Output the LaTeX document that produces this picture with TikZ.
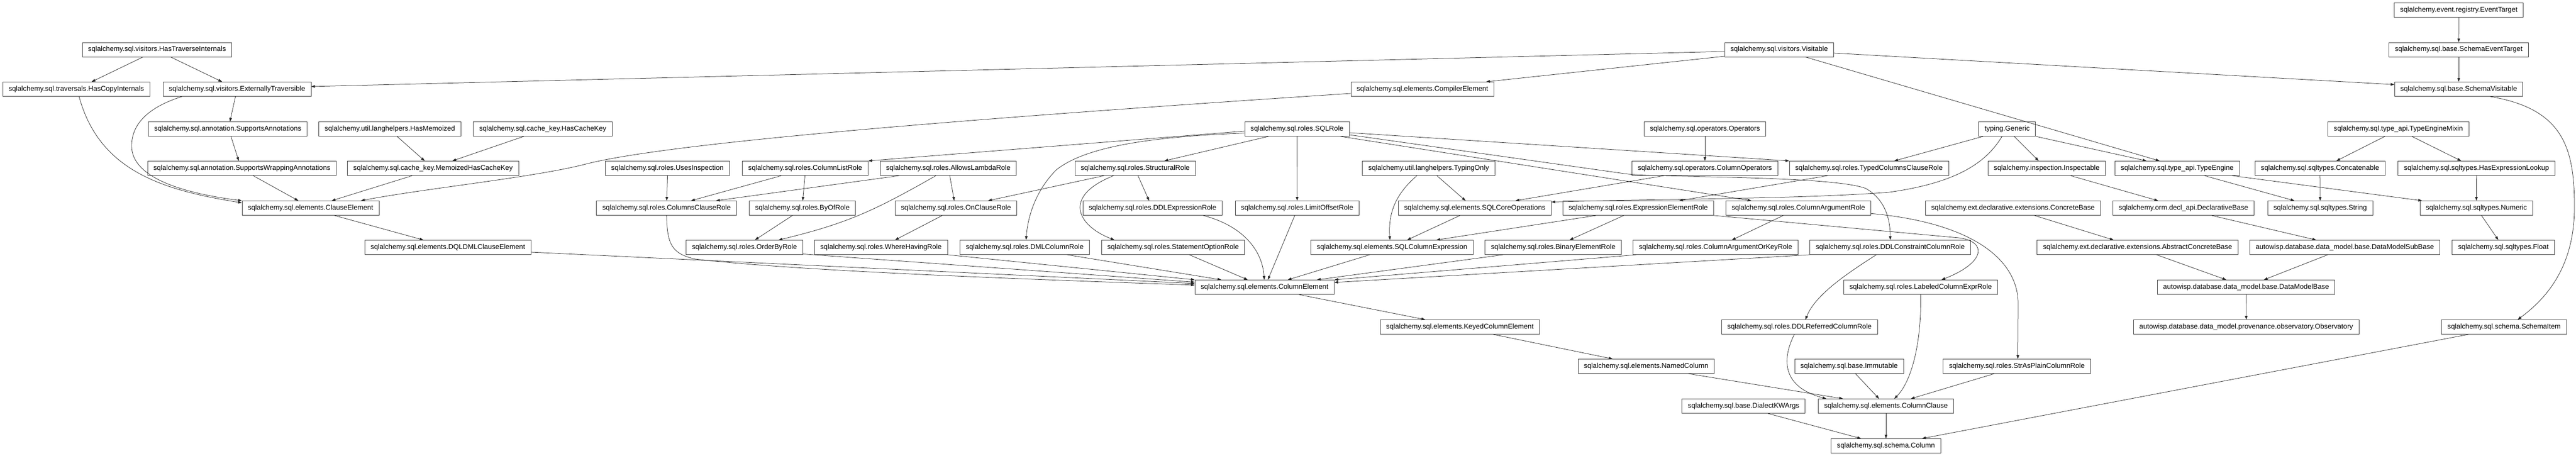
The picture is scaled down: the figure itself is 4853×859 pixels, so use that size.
\documentclass[tikz,border=0pt]{standalone}
\usepackage{fontspec}
\setmainfont{Liberation Sans}
\usetikzlibrary{arrows.meta,calc}
\begin{document}
\begin{tikzpicture}[x=1pt,y=-1pt,
  cls/.style={draw=black!75,line width=0.9pt,fill=white,rectangle,minimum height=27pt,inner xsep=11pt,inner ysep=0pt,font=\fontsize{13.2}{16}\selectfont},
  edg/.style={draw=black!85,line width=0.75pt,-{Triangle[length=7pt,width=5pt]}}]
\fill[white] (0,0) rectangle (4853,859);
\useasboundingbox (0,0) rectangle (4853,859);
% Row A
\node[cls] (evt) at (4632.2,19) {sqlalchemy.event.registry.EventTarget};
% Row B
\node[cls] (hti) at (295.8,93.5) {sqlalchemy.sql.visitors.HasTraverseInternals};
\node[cls] (vis) at (3351.9,93.5) {sqlalchemy.sql.visitors.Visitable};
\node[cls] (set) at (4632,93.5) {sqlalchemy.sql.base.SchemaEventTarget};
% Row C
\node[cls] (hci) at (143.8,168) {sqlalchemy.sql.traversals.HasCopyInternals};
\node[cls] (ext) at (446.6,168) {sqlalchemy.sql.visitors.ExternallyTraversible};
\node[cls] (cmp) at (2679.8,168) {sqlalchemy.sql.elements.CompilerElement};
\node[cls] (svis) at (4632,168) {sqlalchemy.sql.base.SchemaVisitable};
% Row D
\node[cls] (sa) at (429.1,243) {sqlalchemy.sql.annotation.SupportsAnnotations};
\node[cls] (hm) at (734.5,243) {sqlalchemy.util.langhelpers.HasMemoized};
\node[cls] (hck) at (1022.5,243) {sqlalchemy.sql.cache\_key.HasCacheKey};
\node[cls] (sqlr) at (2443.5,243) {sqlalchemy.sql.roles.SQLRole};
\node[cls] (ops) at (3211.9,243) {sqlalchemy.sql.operators.Operators};
\node[cls] (gen) at (3781.3,243) {typing.Generic};
\node[cls] (tem) at (4518.3,243) {sqlalchemy.sql.type\_api.TypeEngineMixin};
% Row E
\node[cls] (swa) at (455.8,317) {sqlalchemy.sql.annotation.SupportsWrappingAnnotations};
\node[cls] (mhck) at (815.8,317) {sqlalchemy.sql.cache\_key.MemoizedHasCacheKey};
\node[cls] (ui) at (1257.3,317) {sqlalchemy.sql.roles.UsesInspection};
\node[cls] (clr) at (1517,317) {sqlalchemy.sql.roles.ColumnListRole};
\node[cls] (alr) at (1786.5,317) {sqlalchemy.sql.roles.AllowsLambdaRole};
\node[cls] (strl) at (2138.7,317) {sqlalchemy.sql.roles.StructuralRole};
\node[cls] (tonly) at (2691.5,317) {sqlalchemy.util.langhelpers.TypingOnly};
\node[cls] (cop) at (3211.9,317) {sqlalchemy.sql.operators.ColumnOperators};
\node[cls] (tccr) at (3521,317) {sqlalchemy.sql.roles.TypedColumnsClauseRole};
\node[cls] (insp) at (3855.8,317) {sqlalchemy.inspection.Inspectable};
\node[cls] (te) at (4101.7,317) {sqlalchemy.sql.type\_api.TypeEngine};
\node[cls] (cat) at (4370.8,317) {sqlalchemy.sql.sqltypes.Concatenable};
\node[cls] (hel) at (4665.6,317) {sqlalchemy.sql.sqltypes.HasExpressionLookup};
% Row F
\node[cls] (ce) at (585,392) {sqlalchemy.sql.elements.ClauseElement};
\node[cls] (ccr) at (1255.8,392) {sqlalchemy.sql.roles.ColumnsClauseRole};
\node[cls] (byof) at (1511.7,392) {sqlalchemy.sql.roles.ByOfRole};
\node[cls] (ocr) at (1801,392) {sqlalchemy.sql.roles.OnClauseRole};
\node[cls] (ddle) at (2171.3,392) {sqlalchemy.sql.roles.DDLExpressionRole};
\node[cls] (lor) at (2443.7,392) {sqlalchemy.sql.roles.LimitOffsetRole};
\node[cls] (sco) at (2778.4,392) {sqlalchemy.sql.elements.SQLCoreOperations};
\node[cls] (eer) at (3086.3,392) {sqlalchemy.sql.roles.ExpressionElementRole};
\node[cls] (car) at (3388,392) {sqlalchemy.sql.roles.ColumnArgumentRole};
\node[cls] (cb) at (3792.3,392) {sqlalchemy.ext.declarative.extensions.ConcreteBase};
\node[cls] (db) at (4113.4,392) {sqlalchemy.orm.decl\_api.DeclarativeBase};
\node[cls] (strg) at (4371,392) {sqlalchemy.sql.sqltypes.String};
\node[cls] (num) at (4665.3,392) {sqlalchemy.sql.sqltypes.Numeric};
% Row G
\node[cls] (dql) at (843.7,466) {sqlalchemy.sql.elements.DQLDMLClauseElement};
\node[cls] (obr) at (1402.5,466) {sqlalchemy.sql.roles.OrderByRole};
\node[cls] (whr) at (1659.7,466) {sqlalchemy.sql.roles.WhereHavingRole};
\node[cls] (dmlc) at (1930.5,466) {sqlalchemy.sql.roles.DMLColumnRole};
\node[cls] (sor) at (2210,466) {sqlalchemy.sql.roles.StatementOptionRole};
\node[cls] (sce) at (2622.5,466) {sqlalchemy.sql.elements.SQLColumnExpression};
\node[cls] (ber) at (2926.1,466) {sqlalchemy.sql.roles.BinaryElementRole};
\node[cls] (caok) at (3232,466) {sqlalchemy.sql.roles.ColumnArgumentOrKeyRole};
\node[cls] (ddlc) at (3561.1,466) {sqlalchemy.sql.roles.DDLConstraintColumnRole};
\node[cls] (acb) at (4027,466) {sqlalchemy.ext.declarative.extensions.AbstractConcreteBase};
\node[cls] (dmsb) at (4417.5,466) {autowisp.database.data\_model.base.DataModelSubBase};
\node[cls] (flt) at (4716.1,466) {sqlalchemy.sql.sqltypes.Float};
% Row H
\node[cls] (cel) at (2382.3,541) {sqlalchemy.sql.elements.ColumnElement};
\node[cls] (lcer) at (3618.4,541) {sqlalchemy.sql.roles.LabeledColumnExprRole};
\node[cls] (dmb) at (4231.5,541) {autowisp.database.data\_model.base.DataModelBase};
% Row I
\node[cls] (kce) at (2750.3,616) {sqlalchemy.sql.elements.KeyedColumnElement};
\node[cls] (ddlr) at (3390.1,616) {sqlalchemy.sql.roles.DDLReferredColumnRole};
\node[cls] (obs) at (4231.7,616) {autowisp.database.data\_model.provenance.observatory.Observatory};
\node[cls] (si) at (4717.5,616) {sqlalchemy.sql.schema.SchemaItem};
% Row J
\node[cls] (nc) at (3101.2,690) {sqlalchemy.sql.elements.NamedColumn};
\node[cls] (imm) at (3483.5,690) {sqlalchemy.sql.base.Immutable};
\node[cls] (sapc) at (3799.6,690) {sqlalchemy.sql.roles.StrAsPlainColumnRole};
% Row K
\node[cls] (dkw) at (3284.8,765) {sqlalchemy.sql.base.DialectKWArgs};
\node[cls] (cc) at (3553,765) {sqlalchemy.sql.elements.ColumnClause};
% Row L
\node[cls] (col) at (3553,840) {sqlalchemy.sql.schema.Column};

% ---- edges ----
\draw[edg] ($(hti.south)+(-26.5,0)$) -- ($(hci.north)+(28.8,0)$);
\draw[edg] ($(hti.south)+(25.8,0)$) -- ($(ext.north)+(-28.2,0)$);
\draw[edg] ($(vis.west)+(0,3.5)$) -- ($(ext.east)+(0,-5)$);
\draw[edg] ($(vis.west)+(0,12.5)$) -- ($(cmp.north)+(120,0)$);
\draw[edg] ($(vis.east)+(0,6.5)$) -- ($(svis.west)+(0,-8.7)$);
\draw[edg] ($(vis.south)+(49.4,0)$) -- ($(te.north)+(-33.4,0)$);
\draw[edg] (evt.south) -- (set.north);
\draw[edg] (set.south) -- (svis.north);
\draw[edg] ($(svis.south)+(59.3,0)$) .. controls (4830,205) and (4850,280) .. (4850,390) .. controls (4850,500) and (4800,560) .. ($(si.north)+(25.7,0)$);
\draw[edg] ($(hci.south)+(5.2,0)$) .. controls (187,322) and (306,358) .. ($(ce.north west)+(0,4)$);
\draw[edg] ($(ext.south)+(-104,0)$) .. controls (270,205) and (248,240) .. (248,275) .. controls (248,330) and (330,362) .. (ce.north west);
\draw[edg] ($(ext.south)+(-3,0)$) -- ($(sa.north)+(4,0)$);
\draw[edg] ($(sa.south)+(6,0)$) -- ($(swa.north)+(-6,0)$);
\draw[edg] ($(swa.south)+(21.2,0)$) -- ($(ce.north)+(-23,0)$);
\draw[edg] ($(hm.south)+(13.5,0)$) -- ($(mhck.north)+(-15.8,0)$);
\draw[edg] ($(hck.south)+(-35.8,0)$) -- ($(mhck.north)+(36.5,0)$);
\draw[edg] ($(mhck.south)+(-39.2,0)$) -- ($(ce.north)+(40,0)$);
\draw[edg] ($(cmp.west)+(0,8)$) .. controls (1800,225) and (1250,270) .. (1100,310) .. controls (1000,335) and (800,355) .. ($(ce.north)+(95,0)$);
\draw[edg] ($(sqlr.west)+(0,4)$) -- (clr.north east);
\draw[edg] ($(sqlr.west)+(0,7.7)$) .. controls (2150,258) and (2040,280) .. (1990,320) .. controls (1950,360) and (1936,410) .. ($(dmlc.north)+(2.5,0)$);
\draw[edg] ($(sqlr.south)+(-53.8,0)$) -- ($(strl.north)+(54.9,0)$);
\draw[edg] (sqlr.south) -- (lor.north);
\draw[edg] ($(sqlr.east)+(0,7)$) -- (tccr.north west);
\draw[edg] ($(sqlr.east)+(0,11)$) -- (3060,327) .. controls (3110,335) and (3450,330) .. (3515,355) .. controls (3550,375) and (3561,410) .. (ddlc.north);
\draw[edg] ($(sqlr.south)+(82,0)$) -- ($(car.north)+(-88.6,0)$);
\draw[edg] ($(alr.south)+(-92.5,0)$) -- ($(ccr.north)+(93.2,0)$);
\draw[edg] ($(ui.south)+(0.3,0)$) -- ($(ccr.north)+(0.2,0)$);
\draw[edg] ($(clr.south)+(-45,0)$) -- ($(ccr.north)+(46.2,0)$);
\draw[edg] ($(clr.south)+(-0.5,0)$) -- ($(byof.north)+(0.6,0)$);
\draw[edg] ($(alr.south)+(2.8,0)$) -- ($(ocr.north)+(-3.3,0)$);
\draw[edg] ($(strl.south)+(-58.7,0)$) -- ($(ocr.north)+(60.5,0)$);
\draw[edg] ($(alr.south)+(-23.3,0)$) .. controls (1650,395) and (1600,420) .. ($(obr.north)+(64.3,0)$);
\draw[edg] ($(byof.south)+(-18.8,0)$) -- ($(obr.north)+(19.8,0)$);
\draw[edg] ($(ocr.south)+(-25.8,0)$) -- ($(whr.north)+(26.6,0)$);
\draw[edg] ($(strl.south)+(-40.8,0)$) .. controls (2000,370) and (2030,425) .. ($(sor.north)+(-110.6,0)$);
\draw[edg] ($(strl.south)+(5.2,0)$) -- ($(ddle.north)+(-6.5,0)$);
\draw[edg] ($(tonly.south)+(15.5,0)$) -- ($(sco.north)+(-17.5,0)$);
\draw[edg] ($(tonly.south)+(-22.2,0)$) .. controls (2630,365) and (2615,400) .. ($(sce.north)+(-3.9,0)$);
\draw[edg] ($(cop.south)+(-77,0)$) -- ($(sco.north)+(76.6,0)$);
\draw[edg] (ops.south) -- (cop.north);
\draw[edg] ($(gen.south)+(-9.7,0)$) .. controls (3740,310) and (3680,345) .. (3560,362) .. controls (3400,375) and (3100,375) .. ($(sco.north east)+(0,2.5)$);
\draw[edg] ($(gen.south)+(-45.3,0)$) -- ($(tccr.north)+(47.7,0)$);
\draw[edg] ($(gen.south)+(13.3,0)$) -- ($(insp.north)+(-15.2,0)$);
\draw[edg] (gen.south east) -- ($(te.north)+(-58,0)$);
\draw[edg] ($(tccr.south)+(-77.8,0)$) -- ($(eer.north)+(77.2,0)$);
\draw[edg] ($(insp.south)+(45,0)$) -- ($(db.north)+(-47.8,0)$);
\draw[edg] ($(tem.south)+(-25.4,0)$) -- ($(cat.north)+(30.8,0)$);
\draw[edg] ($(tem.south)+(25.4,0)$) -- ($(hel.north)+(-29,0)$);
\draw[edg] ($(te.south)+(51.3,0)$) -- ($(strg.north)+(-48.6,0)$);
\draw[edg] ($(te.south)+(103.2,0)$) -- ($(num.north)+(-102.5,0)$);
\draw[edg] (cat.south) -- (strg.north);
\draw[edg] (hel.south) -- (num.north);
\draw[edg] ($(num.south)+(9.6,0)$) -- ($(flt.north)+(-9.5,0)$);
\draw[edg] ($(cb.south)+(40.5,0)$) -- ($(acb.north)+(-45.2,0)$);
\draw[edg] ($(db.south)+(53.3,0)$) -- ($(dmsb.north)+(-54.1,0)$);
\draw[edg] ($(acb.south)+(35.8,0)$) -- ($(dmb.north)+(-37.5,0)$);
\draw[edg] ($(dmsb.south)+(-32.3,0)$) -- ($(dmb.north)+(33.5,0)$);
\draw[edg] (dmb.south) -- (obs.north);
\draw[edg] ($(si.south)+(-67.2,0)$) -- ($(col.north)+(68,0)$);
\draw[edg] ($(ce.south)+(45.2,0)$) -- ($(dql.north)+(-46.1,0)$);
\draw[edg] ($(dql.east)+(0,9)$) -- ($(cel.west)+(0,-7)$);
\draw[edg] (ccr.south) .. controls (1257,460) and (1265,478) .. (1310,488) .. controls (1500,510) and (1900,525) .. ($(cel.west)+(0,-4)$);
\draw[edg] ($(obr.east)+(0,12.5)$) -- ($(cel.west)+(0,-9.5)$);
\draw[edg] (whr.south east) -- (cel.north west);
\draw[edg] ($(dmlc.south)+(80,0)$) -- ($(cel.north)+(-81.5,0)$);
\draw[edg] ($(sor.south)+(30.6,0)$) -- ($(cel.north)+(-31.8,0)$);
\draw[edg] ($(ddle.south)+(95.5,0)$) .. controls (2340,425) and (2378,470) .. ($(cel.north)+(-0.5,0)$);
\draw[edg] ($(lor.south)+(-4.5,0)$) -- ($(cel.north)+(6.3,0)$);
\draw[edg] ($(sce.south)+(-42.1,0)$) -- ($(cel.north)+(43.8,0)$);
\draw[edg] ($(ber.south)+(-94.6,0)$) -- ($(cel.north)+(98.7,0)$);
\draw[edg] ($(caok.south)+(-149.5,0)$) -- (cel.north east);
\draw[edg] (ddlc.south west) -- ($(cel.east)+(0,-9)$);
\draw[edg] ($(sco.south)+(-28,0)$) -- ($(sce.north)+(28.5,0)$);
\draw[edg] ($(eer.south)+(-79.6,0)$) -- ($(sce.north)+(83.5,0)$);
\draw[edg] ($(eer.south)+(-27.3,0)$) -- ($(ber.north)+(31,0)$);
\draw[edg] ($(car.south)+(-28.5,0)$) -- ($(caok.north)+(30.8,0)$);
\draw[edg] ($(car.east)+(0,10.3)$) .. controls (3700,418) and (3800,480) .. (3802,570) -- ($(sapc.north)+(1.8,0)$);
\draw[edg] (eer.south east) -- (3690,448) .. controls (3745,455) and (3740,495) .. ($(lcer.north)+(39.2,0)$);
\draw[edg] ($(cel.south)+(64.8,0)$) -- ($(kce.north)+(-65.3,0)$);
\draw[edg] ($(kce.south)+(62.8,0)$) -- ($(nc.north)+(-63.2,0)$);
\draw[edg] ($(ddlc.south)+(-26.4,0)$) .. controls (3480,515) and (3420,555) .. ($(ddlr.north)+(11.2,0)$);
\draw[edg] ($(ddlr.south)+(-9.7,0)$) .. controls (3355,680) and (3360,730) .. ($(cc.north)+(-112.4,0)$);
\draw[edg] (lcer.south) .. controls (3620,650) and (3600,720) .. ($(cc.north)+(15.7,0)$);
\draw[edg] ($(imm.south)+(12,0)$) -- ($(cc.north)+(-13,0)$);
\draw[edg] ($(sapc.south)+(-42.6,0)$) -- ($(cc.north)+(47,0)$);
\draw[edg] ($(nc.south)+(79.6,0)$) -- ($(cc.north)+(-81,0)$);
\draw[edg] ($(dkw.south)+(45.9,0)$) -- ($(col.north)+(-47,0)$);
\draw[edg] (cc.south) -- (col.north);
\end{tikzpicture}
\end{document}
